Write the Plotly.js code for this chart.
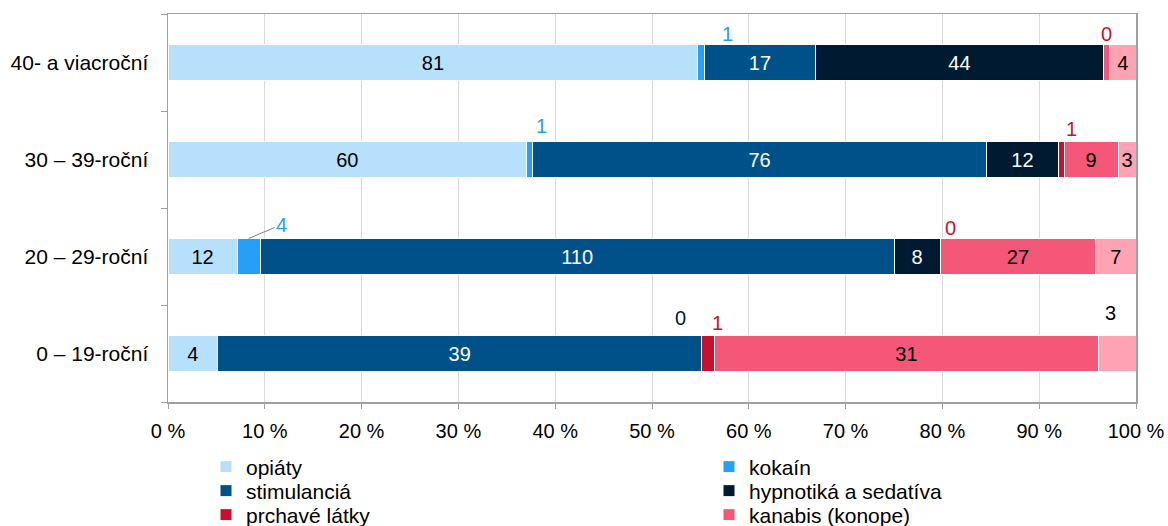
<!DOCTYPE html>
<html>
<head>
<meta charset="utf-8">
<script src="https://cdn.plot.ly/plotly-3.0.1.min.js"></script>
<style>html,body{margin:0;padding:0;background:#fff}#chart{width:1168px;height:526px}</style>
</head>
<body>
<div id="chart"></div>
<script>
// Categories (bottom to top)
var categories = ['0 – 19-roční', '20 – 29-roční', '30 – 39-roční', '40- a viacroční'];

// Series values (counts), same order as categories
var opiaty      = [4, 12, 60, 81];
var kokain      = [0, 4, 1, 1];
var stimulancia = [39, 110, 76, 17];
var hypnotika   = [0, 8, 12, 44];
var prchave     = [1, 0, 1, 0];
var kanabis     = [31, 27, 9, 1];
var ine         = [3, 7, 3, 4];

var seriesNames  = ['opiáty', 'kokaín', 'stimulanciá', 'hypnotiká a sedatíva', 'prchavé látky', 'kanabis (konope)', 'iné'];
var seriesValues = [opiaty, kokain, stimulancia, hypnotika, prchave, kanabis, ine];
var seriesColors = ['#b7e0fc', '#279ff7', '#005089', '#001a31', '#c8102e', '#f45777', '#ffa2b4'];
var textColors   = ['#000', '#279ff7', '#fff', '#fff', '#c8102e', '#000', '#000'];
var aboveColors  = ['#000', '#279ff7', '#005089', '#001a31', '#c8102e', '#000', '#000'];
// legend rows (two entries per row), null = not in legend
var legendRow    = ['legend', 'legend', 'legend2', 'legend2', 'legend3', 'legend3', null];
var legendCol    = [0, 1, 0, 1, 0, 1, 0];

// Which values are labelled inside the bar (1) or above it (2) or not at all (0)
var labelMode = [
  [1, 1, 1, 1],   // opiáty
  [0, 2, 2, 2],   // kokaín
  [1, 1, 1, 1],   // stimulanciá
  [2, 1, 1, 1],   // hypnotiká
  [2, 2, 2, 2],   // prchavé
  [1, 1, 1, 0],   // kanabis
  [2, 1, 1, 1]    // iné
];
// nudges for the labels above the bars (styling only)
var aboveShiftX = [
  [0, 0, 0, 0],
  [0, 0, 12, 26],
  [0, 0, 0, 0],
  [-21, 0, 0, 0],
  [10, 10, 10, 3],
  [0, 0, 0, 0],
  [-7, 0, 0, 0]
];
var aboveShiftY = [
  [29, 29, 29, 29],
  [29, 29, 34, 29],
  [29, 29, 29, 29],
  [36, 29, 29, 29],
  [31, 29, 31, 29],
  [29, 29, 29, 29],
  [41, 29, 29, 29]
];

var FONT = 'Liberation Sans, Arial, sans-serif';

var totals = categories.map(function (c, i) {
  return seriesValues.reduce(function (s, arr) { return s + arr[i]; }, 0);
});

var traces = seriesValues.map(function (vals, k) {
  var t = {
    type: 'bar',
    orientation: 'h',
    name: seriesNames[k],
    y: categories,
    x: vals,
    showlegend: legendRow[k] !== null,
    marker: { color: seriesColors[k], line: { color: '#ffffff', width: 1 } },
    text: vals.map(function (v, i) { return labelMode[k][i] === 1 ? String(v) : ''; }),
    textposition: 'inside',
    insidetextanchor: 'middle',
    constraintext: 'none',
    textfont: { family: FONT, size: 20, color: textColors[k] },
    hoverinfo: 'name+x'
  };
  if (legendRow[k]) {
    t.legend = legendRow[k];
    t.legendwidth = legendCol[k] === 0 ? 458 : 240;
  }
  return t;
});

// Annotations for labels above bars, placed from cumulative data shares
var annotations = [];
categories.forEach(function (cat, i) {
  var cum = 0;
  seriesValues.forEach(function (vals, k) {
    var start = cum;
    cum += vals[i];
    if (labelMode[k][i] !== 2) return;
    var mid = (start + vals[i] / 2) / totals[i] * 100;
    var a = {
      x: mid, y: cat, xref: 'x', yref: 'y',
      text: String(vals[i]),
      font: { family: FONT, size: 20, color: aboveColors[k] },
      showarrow: false,
      yshift: aboveShiftY[k][i],
      xshift: aboveShiftX[k][i]
    };
    if (k === 1 && i === 1) {
      a.showarrow = true;
      a.arrowhead = 0;
      a.arrowwidth = 1;
      a.arrowcolor = '#808080';
      a.ax = 33;
      a.ay = -14;
      a.yshift = 18;
      a.xshift = 0;
      a.standoff = 0;
    }
    annotations.push(a);
  });
});

function rowLegend(yCenter) {
  return {
    orientation: 'h',
    xref: 'container', yref: 'container',
    x: 206 / 1168, xanchor: 'left',
    y: 1 - yCenter / 526, yanchor: 'middle',
    entrywidthmode: 'pixels',
    traceorder: 'normal',
    font: { family: FONT, size: 21, color: '#000' },
    itemwidth: 30,
    bgcolor: 'rgba(0,0,0,0)'
  };
}

var layout = {
  width: 1168,
  height: 526,
  margin: { l: 168, r: 32, t: 14, b: 124 },
  paper_bgcolor: '#ffffff',
  plot_bgcolor: '#ffffff',
  barmode: 'stack',
  barnorm: 'percent',
  bargap: 0.63,
  font: { family: FONT, size: 20, color: '#000' },
  xaxis: {
    range: [0, 100],
    dtick: 10,
    ticksuffix: ' %',
    showgrid: true,
    gridcolor: '#d9d9d9',
    gridwidth: 1,
    showline: true,
    linecolor: '#a0a0a0',
    linewidth: 1.5,
    mirror: true,
    ticks: 'outside',
    ticklen: 5,
    tickcolor: '#a0a0a0',
    zeroline: false,
    ticklabelstandoff: 5,
    tickfont: { family: FONT, size: 20 },
    fixedrange: true
  },
  yaxis: {
    type: 'category',
    categoryorder: 'array',
    categoryarray: categories,
    showline: true,
    linecolor: '#a0a0a0',
    linewidth: 1.5,
    mirror: true,
    ticks: 'outside',
    tickson: 'boundaries',
    ticklen: 6,
    tickcolor: '#a0a0a0',
    showgrid: false,
    ticklabelstandoff: 14,
    tickfont: { family: FONT, size: 21 },
    fixedrange: true
  },
  legend: rowLegend(467),
  legend2: rowLegend(491),
  legend3: rowLegend(515),
  annotations: annotations,
  showlegend: true
};

Plotly.newPlot('chart', traces, layout, { displayModeBar: false, staticPlot: true });
</script>
</body>
</html>
